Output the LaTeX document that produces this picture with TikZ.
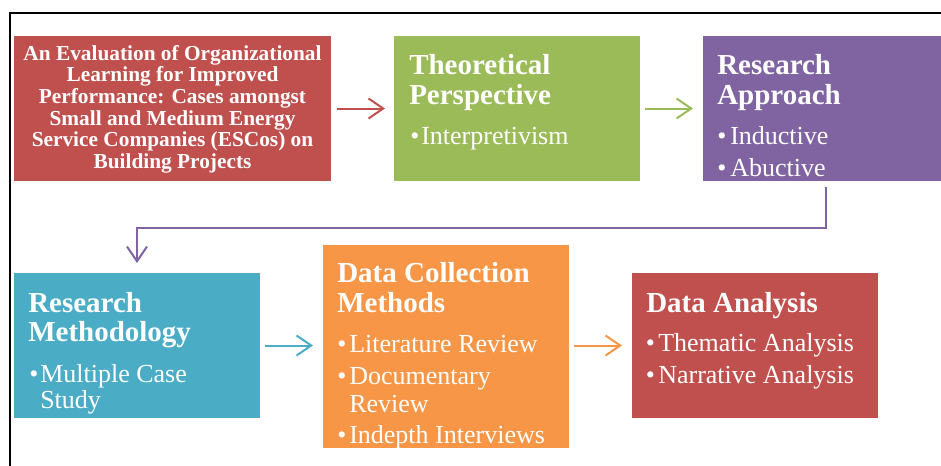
\documentclass[tikz,border=0pt]{standalone}
\usepackage{fontspec}
\setmainfont{Liberation Serif}
\usetikzlibrary{arrows.meta}
\definecolor{cred}{HTML}{C0504D}
\definecolor{cgreen}{HTML}{9BBB59}
\definecolor{cpurple}{HTML}{8064A2}
\definecolor{cblue}{HTML}{4BACC6}
\definecolor{corange}{HTML}{F79646}
\tikzset{
  box/.style={draw=none, inner sep=0pt, outer sep=0pt, minimum width=184.5pt, minimum height=108.75pt},
  head/.style={inner sep=0pt, text=white, anchor=base west, font=\fontsize{21.75pt}{24pt}\selectfont\bfseries},
  item/.style={inner sep=0pt, text=white, anchor=base west, font=\fontsize{19.5pt}{22pt}\selectfont},
  ttl/.style={inner sep=0pt, text=white, anchor=base, font=\fontsize{16pt}{18pt}\selectfont\bfseries},
  conn/.style={line width=1.5pt, -{Straight Barb[length=11pt,width=15pt,line width=1.5pt]}},
}
\begin{document}
\begin{tikzpicture}[x=0.75pt,y=-0.75pt]
\useasboundingbox (0,0) rectangle (941,465);
\clip (0,0) rectangle (941,465);
\fill[white] (0,0) rectangle (941,465);
% frame
\coordinate (fa) at (10,480);
\coordinate (fb) at (10,13);
\coordinate (fc) at (960,13);
\draw[line width=1.6pt, black] (fa) -- (fb) -- (fc);
% boxes
\node[box, fill=cred, minimum width=237.75pt] (b1) at (172.5,108.5) {};
\node[box, fill=cgreen] (b2) at (517,108.5) {};
\node[box, fill=cpurple] (b3) at (826,108.5) {};
\node[box, fill=cblue] (b4) at (137,345.5) {};
\node[box, fill=corange, minimum height=152.25pt] (b5) at (446,346.5) {};
\node[box, fill=cred] (b6) at (755,345.5) {};
% box 1 text
\node[ttl] (t1a) at (172.5,60) {An Evaluation of Organizational};
\node[ttl] (t1b) at (172.5,81.7) {Learning for Improved};
\node[ttl] (t1c) at (172.5,103.4) {Performance: Cases amongst};
\node[ttl] (t1d) at (172.5,125.1) {Small and Medium Energy};
\node[ttl] (t1e) at (172.5,146.8) {Service Companies (ESCos) on};
\node[ttl] (t1f) at (172.5,168.5) {Building Projects};
% box 2
\node[head] (t2a) at (409,74) {Theoretical};
\node[head] (t2b) at (409,104.5) {Perspective};
\node[item] (d2c) at (410,144) {•};
\node[item] (t2c) at (421,144) {Interpretivism};
% box 3
\node[head] (t3a) at (717,74) {Research};
\node[head] (t3b) at (717,104.5) {Approach};
\node[item] (d3c) at (717,144) {•};
\node[item] (t3c) at (730,144) {Inductive};
\node[item] (d3d) at (717,176) {•};
\node[item] (t3d) at (730,176) {Abuctive};
% box 4
\node[head] (t4a) at (28,312) {Research};
\node[head] (t4b) at (28,341) {Methodology};
\node[item] (d4c) at (29,382) {•};
\node[item] (t4c) at (40,382) {Multiple Case};
\node[item] (t4d) at (40,408) {Study};
% box 5
\node[head] (t5a) at (337,282) {Data Collection};
\node[head] (t5b) at (337,312) {Methods};
\node[item] (d5c) at (337,352) {•};
\node[item] (t5c) at (349,352) {Literature Review};
\node[item] (d5d) at (337,384) {•};
\node[item] (t5d) at (349,384) {Documentary};
\node[item] (t5e) at (349,412) {Review};
\node[item] (d5f) at (337,443) {•};
\node[item] (t5f) at (349,443) {Indepth Interviews};
% box 6
\node[head] (t6a) at (646,312) {Data Analysis};
\node[item] (d6b) at (645.5,351) {•};
\node[item] (t6b) at (658,351) {Thematic Analysis};
\node[item] (d6c) at (645.5,383) {•};
\node[item] (t6c) at (658,383) {Narrative Analysis};
% connectors
\draw[conn, cred, shorten <=4.5pt, shorten >=6.75pt] (b1.east) -- (b2.west);
\draw[conn, cgreen, shorten <=3.75pt, shorten >=7.5pt] (b2.east) -- (b3.west);
\draw[conn, cpurple, shorten <=4.5pt, shorten >=7.5pt] (b3.south) -- ++(0,47) -| (b4.north);
\draw[conn, cblue, shorten <=3.75pt, shorten >=7.5pt] (b4.east) -- (b5.west |- b4.east);
\draw[conn, corange, shorten <=3.75pt, shorten >=7.5pt] (b5.east |- b6.west) -- (b6.west);
\end{tikzpicture}
\end{document}
